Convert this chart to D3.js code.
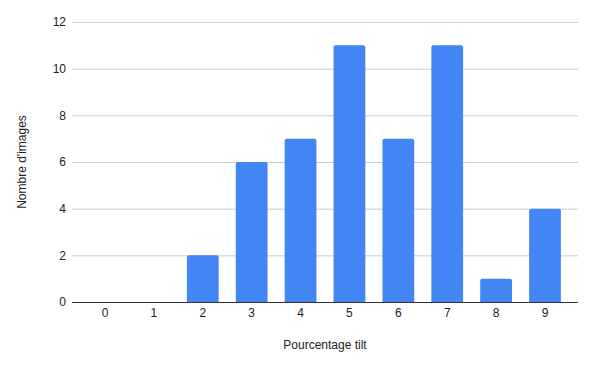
<!DOCTYPE html>
<html>
<head>
<meta charset="utf-8">
<script src="https://cdn.jsdelivr.net/npm/d3@7"></script>
<style>
  body { margin: 0; background: #fff; }
  text { font-family: Arial, "Liberation Sans", sans-serif; fill: #222; }
</style>
</head>
<body>
<svg></svg>
<script>
// data
var categories = ["0", "1", "2", "3", "4", "5", "6", "7", "8", "9"];
var counts = [0, 0, 2, 6, 7, 11, 7, 11, 1, 4];
var yTicks = [0, 2, 4, 6, 8, 10, 12];

var svgWidth = 593, svgHeight = 365;
var plotLeft = 72, plotRight = 578, plotTop = 22, plotBottom = 302;

var svg = d3.select("svg")
    .attr("width", svgWidth)
    .attr("height", svgHeight);

var xScale = d3.scaleBand()
    .domain(categories)
    .range([plotLeft, plotRight])
    .paddingInner(0.35)
    .paddingOuter(0.35);

var yScale = d3.scaleLinear()
    .domain([0, 12])
    .range([plotBottom, plotTop]);

// gridlines
svg.selectAll("line.grid")
    .data(yTicks.filter(function(d) { return d > 0; }))
    .enter()
    .append("line")
    .attr("x1", plotLeft)
    .attr("x2", plotRight)
    .attr("y1", function(d) { return yScale(d) + 0.5; })
    .attr("y2", function(d) { return yScale(d) + 0.5; })
    .attr("stroke", "#cccccc")
    .attr("stroke-width", 1);

// y tick labels
svg.selectAll("text.ylab")
    .data(yTicks)
    .enter()
    .append("text")
    .attr("x", 66)
    .attr("y", function(d) { return yScale(d); })
    .attr("dy", "0.35em")
    .attr("text-anchor", "end")
    .attr("font-size", 12)
    .text(function(d) { return d; });

// bars with slightly rounded tops
function barPath(d, i) {
    var x0 = xScale(categories[i]), w = xScale.bandwidth();
    var y0 = yScale(d), h = plotBottom - y0;
    if (h <= 0) return "";
    var r = Math.min(2, h);
    return "M" + x0 + "," + plotBottom +
        "V" + (y0 + r) +
        "Q" + x0 + "," + y0 + " " + (x0 + r) + "," + y0 +
        "H" + (x0 + w - r) +
        "Q" + (x0 + w) + "," + y0 + " " + (x0 + w) + "," + (y0 + r) +
        "V" + plotBottom + "Z";
}

svg.selectAll("path.bar")
    .data(counts)
    .enter()
    .append("path")
    .attr("class", "bar")
    .attr("d", barPath)
    .attr("fill", "#4285f4");

// baseline
svg.append("line")
    .attr("x1", plotLeft)
    .attr("x2", plotRight)
    .attr("y1", plotBottom + 0.5)
    .attr("y2", plotBottom + 0.5)
    .attr("stroke", "#333333")
    .attr("stroke-width", 1);

// x tick labels
svg.selectAll("text.xlab")
    .data(categories)
    .enter()
    .append("text")
    .attr("x", function(d) { return xScale(d) + xScale.bandwidth() / 2; })
    .attr("y", 317)
    .attr("text-anchor", "middle")
    .attr("font-size", 12)
    .text(function(d) { return d; });

// axis titles
svg.append("text")
    .attr("x", (plotLeft + plotRight) / 2)
    .attr("y", 349)
    .attr("text-anchor", "middle")
    .attr("font-size", 12)
    .text("Pourcentage tilt");

svg.append("text")
    .attr("transform", "translate(26," + ((plotTop + plotBottom) / 2) + ") rotate(-90)")
    .attr("text-anchor", "middle")
    .attr("font-size", 12)
    .text("Nombre d'images");
</script>
</body>
</html>
